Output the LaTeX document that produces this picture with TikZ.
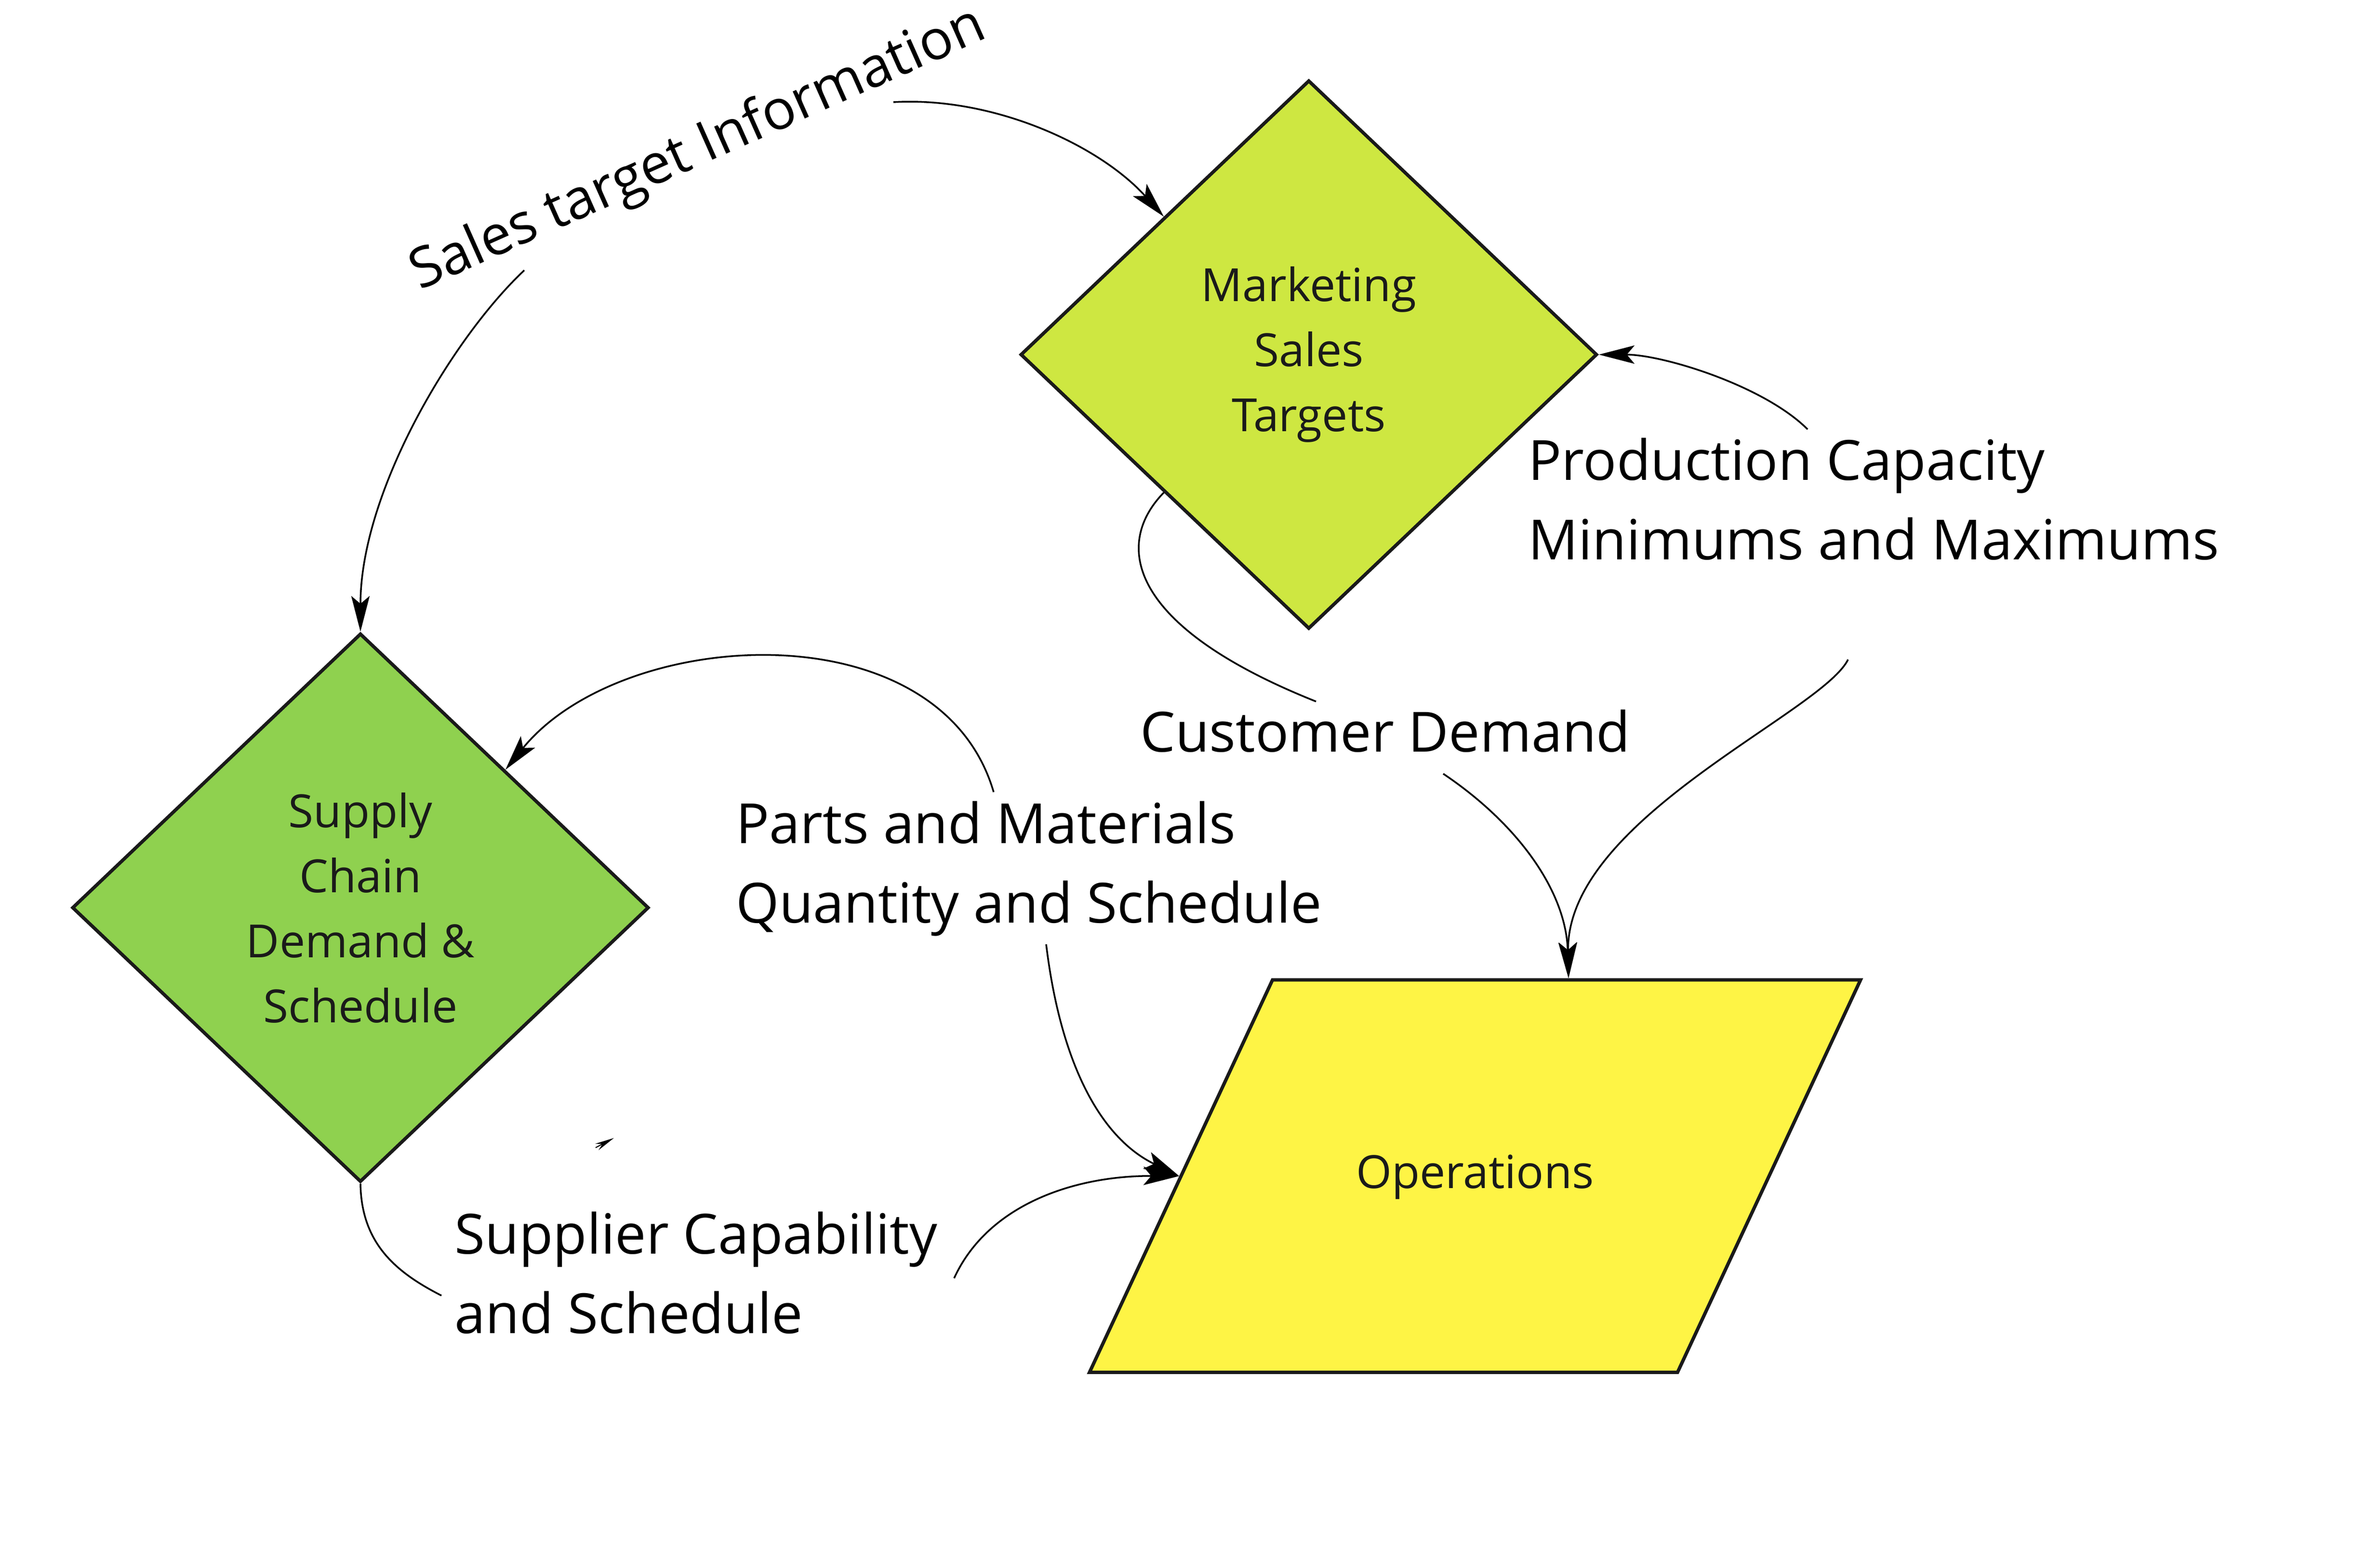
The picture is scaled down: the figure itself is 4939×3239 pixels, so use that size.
\documentclass[tikz,border=0pt]{standalone}
\usepackage{fontspec}
\setmainfont{Open Sans}
\usetikzlibrary{shapes.geometric,arrows.meta,positioning,calc}
\definecolor{mktgreen}{HTML}{CEE741}
\definecolor{supgreen}{HTML}{8FD14F}
\definecolor{opsyellow}{HTML}{FEF445}
\definecolor{edgegray}{HTML}{1A1A1A}
\tikzstyle{decision} = [diamond, draw=edgegray, line width=2pt, text=edgegray, align=center, inner sep=0pt, minimum width=11.96cm, minimum height=11.38cm, font=\fontsize{27pt}{38.4pt}\selectfont]
\tikzstyle{io} = [trapezium, trapezium left angle=65, trapezium right angle=115, draw=edgegray, line width=2pt, fill=opsyellow, text=edgegray, inner sep=0pt, text width=8.4cm, align=center, text height=4.32cm, text depth=3.82cm, font=\fontsize{27pt}{38.4pt}\selectfont]
\tikzstyle{flowtext} = [align=left, inner sep=0pt, font=\fontsize{32.7pt}{46.9pt}\selectfont]
\tikzstyle{line} = [draw, line width=1pt, -{Stealth[length=0.74cm, width=0.38cm, inset=0.16cm]}]
\tikzstyle{linefree} = [draw, line width=1pt]

\begin{document}
\begin{tikzpicture}[x=0.01cm, y=-0.01cm]
    \useasboundingbox (0,0) rectangle (4939,3239);
    \node [decision, fill=mktgreen] (marketing) at (2716,736) {Marketing\\Sales\\Targets};
    \node [decision, fill=supgreen] (supply) at (748,1884) {Supply\\Chain\\Demand \&\\Schedule};
    \node [io] (operations) at (3061,2441) {Operations};
    % multi-line labels sit on the baseline of their last line
    \node [flowtext, anchor=base west, rotate=24] (salesinfo) at (871,603) {Sales target Information};
    \node [flowtext, anchor=base west] (capacity) at (3171,1161) {Production Capacity\\Minimums and Maximums};
    \node [flowtext, anchor=base west] (customer) at (2366,1560) {Customer Demand};
    \node [flowtext, anchor=base west] (parts) at (1527,1915) {Parts and Materials\\Quantity and Schedule};
    \node [flowtext, anchor=base west] (supplier) at (943,2767) {Supplier Capability\\and Schedule};
    % loose ends next to the labels
    \coordinate (salesout1) at (1854,212);
    \coordinate (salesout2) at (1088,561);
    \coordinate (capout1) at (3751,891);
    \coordinate (capout2) at (3835,1369);
    \coordinate (custin) at (2731,1456);
    \coordinate (custout) at (2995,1606);
    \coordinate (partsout1) at (2062,1644);
    \coordinate (partsout2) at (2171,1960);
    \coordinate (supin) at (916,2689);
    \coordinate (supout) at (1980,2653);
    \coordinate (opstop) at ($(operations.top left corner)!0.502!(operations.top right corner)$);
    \coordinate (straya) at (1236,2382);
    \coordinate (strayb) at (1274,2362);
    \path [line] (salesout1) .. controls (2060,200) and (2280,300) .. (marketing.north west);
    \path [line] (salesout2) .. controls (940,700) and (748,1020) .. (supply.north);
    \path [line] (capout1) .. controls (3660,800) and (3450,736) .. (marketing.east);
    \path [line] (capout2) .. controls (3780,1480) and (3250,1700) .. (opstop);
    \path [linefree] (marketing.south west) .. controls (2310,1130) and (2340,1300) .. (custin);
    \path [line] (custout) .. controls (3150,1710) and (3250,1850) .. (opstop);
    \path [line] (partsout1) .. controls (1950,1260) and (1290,1300) .. (supply.north east);
    \path [line] (partsout2) .. controls (2200,2200) and (2280,2360) .. (operations.west);
    \path [linefree] (supply.south) .. controls (750,2580) and (820,2640) .. (supin);
    \path [line] (supout) .. controls (2050,2500) and (2230,2440) .. (operations.west);
    \path [draw, line width=0.6pt, -{Stealth[length=0.4cm, width=0.15cm]}] (straya) -- (strayb);
\end{tikzpicture}
\end{document}
